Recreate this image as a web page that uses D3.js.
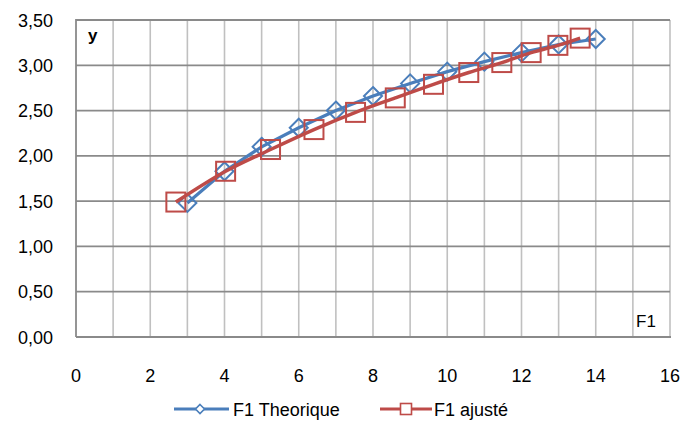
<!DOCTYPE html>
<html>
<head>
<meta charset="utf-8">
<script src="https://cdn.jsdelivr.net/npm/d3@7"></script>
<style>
  html, body { margin: 0; padding: 0; background: #fff; }
  svg { display: block; }
  text { font-family: "Liberation Sans", Arial, sans-serif; fill: #000; }
</style>
</head>
<body>
<svg id="chart" width="681" height="421"></svg>
<script>
// ---- data ----
const xTheo = [3, 4, 5, 6, 7, 8, 9, 10, 11, 12, 13, 14];
const yTheo = [1.48, 1.83, 2.10, 2.31, 2.50, 2.66, 2.80, 2.93, 3.04, 3.14, 3.23, 3.29];
const xAdj  = [2.69, 4.03, 5.24, 6.41, 7.53, 8.60, 9.63, 10.58, 11.47, 12.26, 12.98, 13.58];
const yAdj  = [1.49, 1.83, 2.07, 2.29, 2.48, 2.64, 2.79, 2.92, 3.03, 3.14, 3.22, 3.30];
const xTicks = [0, 2, 4, 6, 8, 10, 12, 14, 16];
const yTicks = [0, 0.5, 1, 1.5, 2, 2.5, 3, 3.5];
const seriesNames = ["F1 Theorique", "F1 ajusté"];
const seriesColors = ["#4A7EBB", "#BE4B48"];

// ---- layout ----
const svg = d3.select("#chart");
const L = 76, R = 670, T = 20, B = 337;
const x = d3.scaleLinear().domain([0, 16]).range([L, R]);
const y = d3.scaleLinear().domain([0, 3.5]).range([B, T]);
const fmt = v => d3.format(".2f")(v).replace(".", ",");

// vertical gridlines (every 1)
svg.append("g").selectAll("line").data(d3.range(1, 17)).join("line")
  .attr("x1", d => x(d)).attr("x2", d => x(d))
  .attr("y1", T).attr("y2", B)
  .attr("stroke", "#c0c0c0").attr("stroke-width", 1.6);

// horizontal gridlines
svg.append("g").selectAll("line").data(yTicks.filter(d => d > 0)).join("line")
  .attr("x1", L).attr("x2", R)
  .attr("y1", d => y(d)).attr("y2", d => y(d))
  .attr("stroke", "#8a8a8a").attr("stroke-width", 1.8);

// axes lines
svg.append("line").attr("x1", L).attr("x2", L).attr("y1", T - 1).attr("y2", B)
  .attr("stroke", "#8a8a8a").attr("stroke-width", 1.8);
svg.append("line").attr("x1", L).attr("x2", R + 1).attr("y1", B).attr("y2", B)
  .attr("stroke", "#8a8a8a").attr("stroke-width", 1.8);

// y tick labels
svg.append("g").selectAll("text").data(yTicks).join("text")
  .attr("x", 53).attr("y", d => y(d) + 6.5)
  .attr("text-anchor", "end").attr("font-size", 18)
  .text(d => fmt(d));

// x tick labels
svg.append("g").selectAll("text").data(xTicks).join("text")
  .attr("x", d => x(d)).attr("y", 381.5)
  .attr("text-anchor", "middle").attr("font-size", 18)
  .text(d => d);

// axis titles inside plot
svg.append("text").attr("x", 88).attr("y", 41)
  .attr("font-size", 17).attr("font-weight", "bold").text("y");
svg.append("text").attr("x", 636).attr("y", 327)
  .attr("font-size", 17).text("F1");

// series
const theo = xTheo.map((v, i) => [v, yTheo[i]]);
const adj = xAdj.map((v, i) => [v, yAdj[i]]);

const lineStraight = d3.line().x(d => x(d[0])).y(d => y(d[1]));
const lineSmooth = d3.line().x(d => x(d[0])).y(d => y(d[1])).curve(d3.curveCatmullRom);

svg.append("path").datum(theo).attr("d", lineStraight)
  .attr("fill", "none").attr("stroke", seriesColors[0]).attr("stroke-width", 3.2);
const diamond = (cx, cy, r) => `M${cx},${cy - r}L${cx + r},${cy}L${cx},${cy + r}L${cx - r},${cy}Z`;
svg.append("g").selectAll("path").data(theo).join("path")
  .attr("d", d => diamond(x(d[0]), y(d[1]), 9))
  .attr("fill", "none").attr("stroke", seriesColors[0]).attr("stroke-width", 2);

svg.append("path").datum(adj).attr("d", lineSmooth)
  .attr("fill", "none").attr("stroke", seriesColors[1]).attr("stroke-width", 3.5);
svg.append("g").selectAll("rect").data(adj).join("rect")
  .attr("x", d => x(d[0]) - 9.5).attr("y", d => y(d[1]) - 9.5)
  .attr("width", 19).attr("height", 19)
  .attr("fill", "none").attr("stroke", seriesColors[1]).attr("stroke-width", 2);

// legend
const legY = 409;
const leg = [
  { x1: 174, x2: 229, m: 200, tx: 233 },
  { x1: 380, x2: 432, m: 406, tx: 434 }
];
leg.forEach((l, i) => {
  svg.append("line").attr("x1", l.x1).attr("x2", l.x2).attr("y1", legY).attr("y2", legY)
    .attr("stroke", seriesColors[i]).attr("stroke-width", 3.2);
  if (i === 0) {
    svg.append("path").attr("d", diamond(l.m, legY, 4.5))
      .attr("fill", "#fff").attr("stroke", seriesColors[i]).attr("stroke-width", 1.6);
  } else {
    svg.append("rect").attr("x", l.m - 5.5).attr("y", legY - 5.5).attr("width", 11).attr("height", 11)
      .attr("fill", "#fff").attr("stroke", seriesColors[i]).attr("stroke-width", 1.6);
  }
  svg.append("text").attr("x", l.tx).attr("y", legY + 6.5).attr("font-size", 18)
    .text(seriesNames[i]);
});
</script>
</body>
</html>
